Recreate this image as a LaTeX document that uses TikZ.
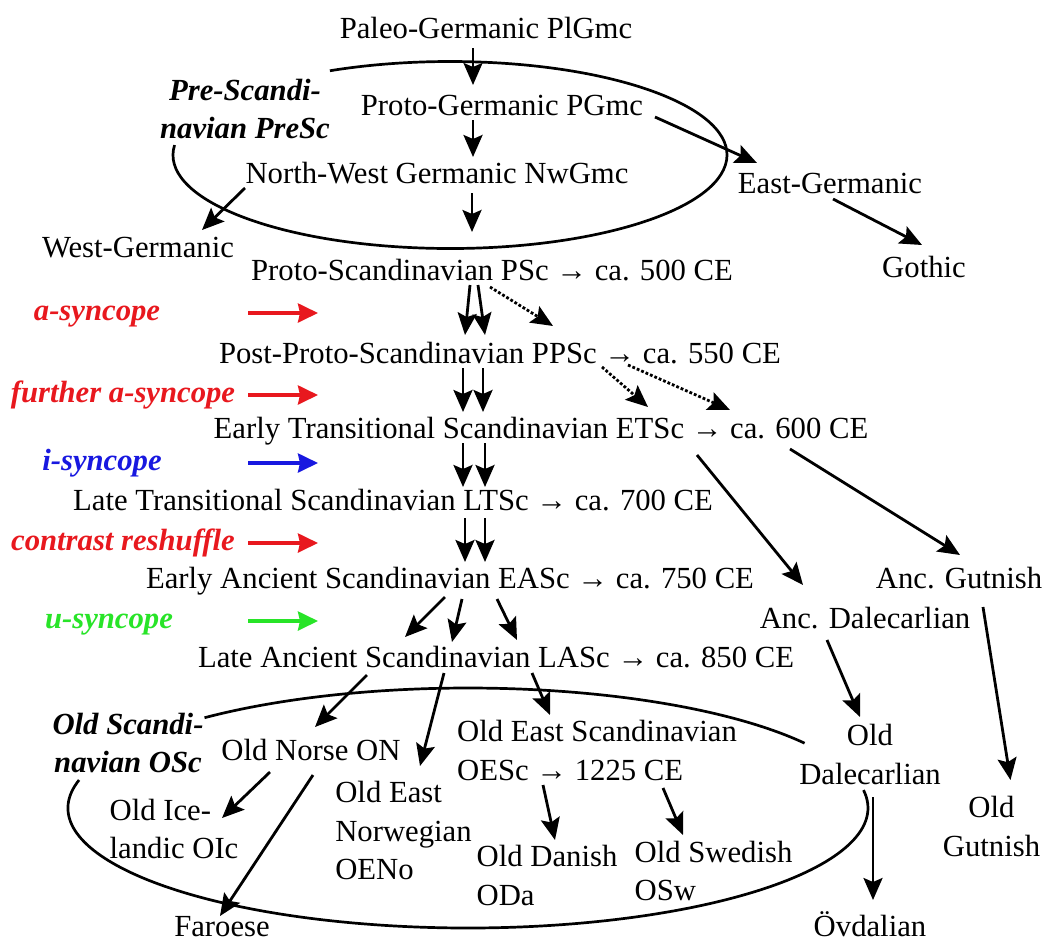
\documentclass[tikz,border=0pt]{standalone}
\usepackage{fontspec}
\setmainfont{LiberationSerif}[Extension=.ttf, UprightFont=*-Regular, BoldFont=*-Bold, ItalicFont=*-Italic, BoldItalicFont=*-BoldItalic]
\usetikzlibrary{arrows.meta}
\definecolor{synred}{RGB}{232,24,30}
\definecolor{synblue}{RGB}{24,24,224}
\definecolor{syngreen}{RGB}{40,228,40}
\newcommand\langfont{\fontsize{30.7}{38.5}\selectfont}

\begin{document}
\begin{tikzpicture}[x=1pt, y=-1pt,
    lang/.style={inner sep=0pt, font=\langfont},
    one/.style={lang, text height=21.5pt, text depth=6.8pt},
    group/.style={lang, align=center, font=\langfont\bfseries\itshape},
    syn/.style={one, font=\langfont\bfseries\itshape, text=#1},
    arr/.style={-{Stealth[length=22pt, width=19pt, inset=4pt]}, line width=2.8pt},
    dotarr/.style={arr, dotted},
    synarr/.style={-{Stealth[length=20pt, width=19pt, inset=2pt]}, line width=3.4pt, draw=#1},
    loop/.style={line width=2.7pt}]
\useasboundingbox (0,0) rectangle (1043,943);

% the two open loops
\draw[loop] (450,155) ++(186.1:277 and 93.5) arc[start angle=186.1, end angle=-115.7, x radius=277, y radius=93.5];
\draw[loop] (468,808) ++(193.5:400 and 120) arc[start angle=193.5, end angle=-8.6, x radius=400, y radius=120];
\draw[loop] (468,808) ++(-32.7:400 and 120) arc[start angle=-32.7, end angle=-131.2, x radius=400, y radius=120];

% Germanic part
\node[one] (plgmc) at (486,31) {Paleo-Germanic PlGmc};
\node[one] (pgmc) at (502,108) {Proto-Germanic PGmc};
\node[one] (nwgmc) at (437,176) {North-West Germanic NwGmc};
\node[one] (westg) at (138,250) {West-Germanic};
\node[one] (eastg) at (830,186) {East-Germanic};
\node[one] (gothic) at (924,270) {Gothic};
\node[group] (presc) at (245,109) {Pre-Scandi-\\navian PreSc};

% Scandinavian stages
\node[one] (psc) at (492,273) {Proto-Scandinavian PSc → ca. 500 CE};
\node[one] (ppsc) at (500,356) {Post-Proto-Scandinavian PPSc → ca. 550 CE};
\node[one] (etsc) at (541,431) {Early Transitional Scandinavian ETSc → ca. 600 CE};
\node[one] (ltsc) at (393,503) {Late Transitional Scandinavian LTSc → ca. 700 CE};
\node[one] (easc) at (450,581) {Early Ancient Scandinavian EASc → ca. 750 CE};
\node[one] (lasc) at (496,660) {Late Ancient Scandinavian LASc → ca. 850 CE};
\node[one] (ancgut) at (959,581) {Anc. Gutnish};
\node[one] (ancdal) at (865,621) {Anc. Dalecarlian};

% sound changes
\node[syn=synred] (asyn) at (97,313) {a-syncope};
\node[syn=synred] (fasyn) at (123,395) {further a-syncope};
\node[syn=synblue] (isyn) at (102,463) {i-syncope};
\node[syn=synred] (reshuf) at (123,543) {contrast reshuffle};
\node[syn=syngreen] (usyn) at (109,621) {u-syncope};

% Old Scandinavian
\node[group] (osc) at (128,743) {Old Scandi-\\navian OSc};
\node[one] (on) at (311,753) {Old Norse ON};
\node[lang, align=left] (oic) at (174,829) {Old Ice-\\landic OIc};
\node[one] (faroese) at (222,929) {Faroese};
\node[lang, align=left] (oeno) at (403.5,830.5) {Old East\\Norwegian\\OENo};
\node[lang, align=left] (oesc) at (597,750.5) {Old East Scandinavian\\OESc → 1225 CE};
\node[lang, align=left] (oda) at (547,875.5) {Old Danish\\ODa};
\node[lang, align=left] (osw) at (713.5,871) {Old Swedish\\OSw};
\node[lang, align=center] (olddal) at (870,754.5) {Old\\Dalecarlian};
\node[lang, align=center] (oldgut) at (991.5,826.5) {Old\\Gutnish};
\node[one] (ovdal) at (870,929) {Övdalian};

% coloured markers
\draw[synarr=synred] (248,0 |- asyn) -- (318,0 |- asyn);
\draw[synarr=synred] (248,0 |- fasyn) -- (318,0 |- fasyn);
\draw[synarr=synblue] (248,0 |- isyn) -- (318,0 |- isyn);
\draw[synarr=synred] (248,0 |- reshuf) -- (318,0 |- reshuf);
\draw[synarr=syngreen] (248,0 |- usyn) -- (318,0 |- usyn);

% descent
\draw[arr] ([shift={(-13,17)}]plgmc.center) -- ([shift={(-29,-23)}]pgmc.center);
\draw[arr] ([shift={(-29,12)}]pgmc.center) -- ([shift={(36,-19)}]nwgmc.center);
\draw[arr] ([shift={(35,17)}]nwgmc.center) -- ([shift={(-20,-41)}]psc.center);
\draw[arr] ([shift={(-192,12)}]nwgmc.center) -- ([shift={(64,-20)}]westg.center);
\draw[arr] ([shift={(153,9)}]pgmc.center) -- ([shift={(-73,-23)}]eastg.center);
\draw[arr] ([shift={(3,13)}]eastg.center) -- ([shift={(-2,-25)}]gothic.center);

\draw[arr] ([shift={(-22,12)}]psc.center) -- ([shift={(-35,-21)}]ppsc.center);
\draw[arr] ([shift={(-14,12)}]psc.center) -- ([shift={(-15,-21)}]ppsc.center);
\draw[dotarr] ([shift={(-2,14)}]psc.center) -- ([shift={(53,-30)}]ppsc.center);

\draw[arr] ([shift={(-37,12)}]ppsc.center) -- ([shift={(-78,-19)}]etsc.center);
\draw[arr] ([shift={(-17,12)}]ppsc.center) -- ([shift={(-58,-19)}]etsc.center);
\draw[dotarr] ([shift={(102,11)}]ppsc.center) -- ([shift={(107,-24)}]etsc.center);
\draw[dotarr] ([shift={(128,9)}]ppsc.center) -- ([shift={(189,-21)}]etsc.center);

\draw[arr] ([shift={(-78,12)}]etsc.center) -- ([shift={(70,-16)}]ltsc.center);
\draw[arr] ([shift={(-56,12)}]etsc.center) -- ([shift={(92,-16)}]ltsc.center);
\draw[arr] ([shift={(156,24)}]etsc.center) -- ([shift={(-62,-36)}]ancdal.center);
\draw[arr] ([shift={(249,18)}]etsc.center) -- ([shift={(1,-26)}]ancgut.center);

\draw[arr] ([shift={(72,15)}]ltsc.center) -- ([shift={(15,-19)}]easc.center);
\draw[arr] ([shift={(92,15)}]ltsc.center) -- ([shift={(35,-19)}]easc.center);

\draw[arr] ([shift={(-5,16)}]easc.center) -- ([shift={(-91,-23)}]lasc.center);
\draw[arr] ([shift={(12,18)}]easc.center) -- ([shift={(-44,-18)}]lasc.center);
\draw[arr] ([shift={(47,18)}]easc.center) -- ([shift={(21,-20)}]lasc.center);

\draw[arr] ([shift={(-129,15)}]lasc.center) -- ([shift={(4,-26)}]on.center);
\draw[arr] ([shift={(-52,13)}]lasc.center) -- ([shift={(16.5,-64.5)}]oeno.center);
\draw[arr] ([shift={(36,13)}]lasc.center) -- ([shift={(-47,-35.5)}]oesc.center);
\draw[arr] ([shift={(-41,19)}]on.center) -- ([shift={(48,-11)}]oic.center);
\draw[arr] ([shift={(2,22)}]on.center) -- ([shift={(-2,-13)}]faroese.center);
\draw[arr] ([shift={(-54,34.5)}]oesc.center) -- ([shift={(8,-35.5)}]oda.center);
\draw[arr] ([shift={(66,37.5)}]oesc.center) -- ([shift={(-30.5,-36)}]osw.center);

\draw[arr] ([shift={(-38,19)}]ancdal.center) -- ([shift={(-10,-37.5)}]olddal.center);
\draw[arr] ([shift={(24,26)}]ancgut.center) -- ([shift={(19,-46.5)}]oldgut.center);
\draw[arr] ([shift={(3,42.5)}]olddal.center) -- ([shift={(3,-29)}]ovdal.center);
\end{tikzpicture}
\end{document}
